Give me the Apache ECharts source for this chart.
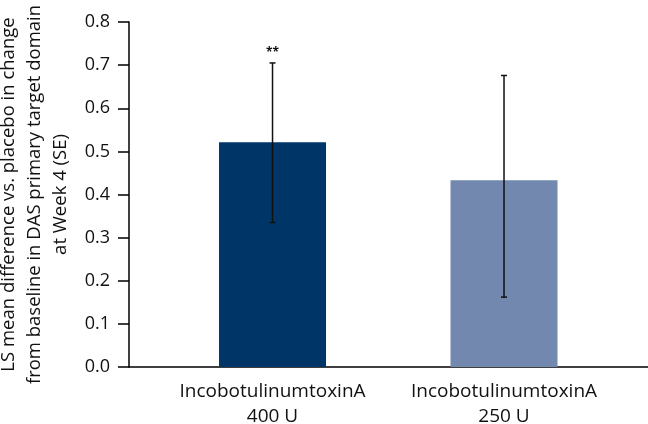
<!DOCTYPE html>
<html lang="en">
<head>
    <meta charset="UTF-8">
    <title>LS mean difference vs. placebo</title>
    <script src="https://cdn.jsdelivr.net/npm/echarts@6.0.0/dist/echarts.min.js"></script>
    <style>
        html, body { margin: 0; padding: 0; background: #fff; }
        #chart { width: 648px; height: 424px; }
    </style>
</head>
<body>
    <div id="chart"></div>
    <script>
        // data
        const categories = ['IncobotulinumtoxinA\n400 U', 'IncobotulinumtoxinA\n250 U'];
        const positions = [1, 2];
        const means = [0.521, 0.433];
        const errLow = [0.335, 0.162];
        const errHigh = [0.705, 0.676];
        const marks = ['**', ''];
        const barColors = ['#003567', '#7388ae'];

        const chart = echarts.init(document.getElementById('chart'));
        const font = '"Open Sans", "Noto Sans", sans-serif';

        const barData = positions.map((p, i) => ({
            value: [p, means[i]],
            itemStyle: { color: barColors[i] }
        }));
        const errData = positions.map((p, i) => [p, errLow[i], errHigh[i]]);

        const option = {
            animation: false,
            textStyle: { fontFamily: font },
            grid: { left: 129, right: 0, top: 22, bottom: 57, outerBoundsMode: 'none', containLabel: false },
            xAxis: {
                type: 'value',
                min: 0.38,
                max: 2.622,
                splitLine: { show: false },
                axisLine: { show: true, onZero: false, lineStyle: { color: '#000', width: 1.5 } },
                axisTick: { show: false },
                axisLabel: {
                    customValues: positions,
                    formatter: v => categories[positions.indexOf(Math.round(v))] || '',
                    color: '#111',
                    fontSize: 19,
                    lineHeight: 25,
                    margin: 12,
                    fontFamily: font
                }
            },
            yAxis: {
                type: 'value',
                min: 0,
                max: 0.8,
                interval: 0.1,
                name: 'LS mean difference vs. placebo in change\nfrom baseline in DAS primary target domain\nat Week 4 (SE)',
                nameLocation: 'middle',
                nameGap: 55,
                nameTextStyle: { fontSize: 18.5, lineHeight: 26, color: '#111', fontFamily: font },
                splitLine: { show: false },
                axisLine: { show: true, lineStyle: { color: '#000', width: 1.5 } },
                axisTick: { show: true, length: 11, lineStyle: { color: '#000', width: 1.5 } },
                axisLabel: {
                    formatter: v => v.toFixed(1),
                    color: '#111',
                    fontSize: 18,
                    margin: 19,
                    fontFamily: font
                }
            },
            series: [
                {
                    type: 'bar',
                    data: barData,
                    barWidth: 107,
                    z: 1
                },
                {
                    type: 'custom',
                    data: errData,
                    z: 3,
                    renderItem: function (params, api) {
                        const x = api.value(0);
                        const lo = api.coord([x, api.value(1)]);
                        const hi = api.coord([x, api.value(2)]);
                        const cap = 3;
                        const style = { stroke: '#111', lineWidth: 1.5 };
                        const children = [
                            { type: 'line', shape: { x1: hi[0], y1: hi[1], x2: lo[0], y2: lo[1] }, style: style },
                            { type: 'line', shape: { x1: hi[0] - cap, y1: hi[1], x2: hi[0] + cap, y2: hi[1] }, style: style },
                            { type: 'line', shape: { x1: lo[0] - cap, y1: lo[1], x2: lo[0] + cap, y2: lo[1] }, style: style }
                        ];
                        const m = marks[params.dataIndex];
                        if (m) {
                            children.push({
                                type: 'text',
                                x: hi[0],
                                y: hi[1] - 4,
                                style: {
                                    text: m,
                                    fill: '#111',
                                    fontSize: 12,
                                    fontWeight: 'bold',
                                    fontFamily: font,
                                    align: 'center',
                                    verticalAlign: 'bottom'
                                }
                            });
                        }
                        return { type: 'group', children: children };
                    }
                }
            ]
        };

        chart.setOption(option);
    </script>
</body>
</html>
